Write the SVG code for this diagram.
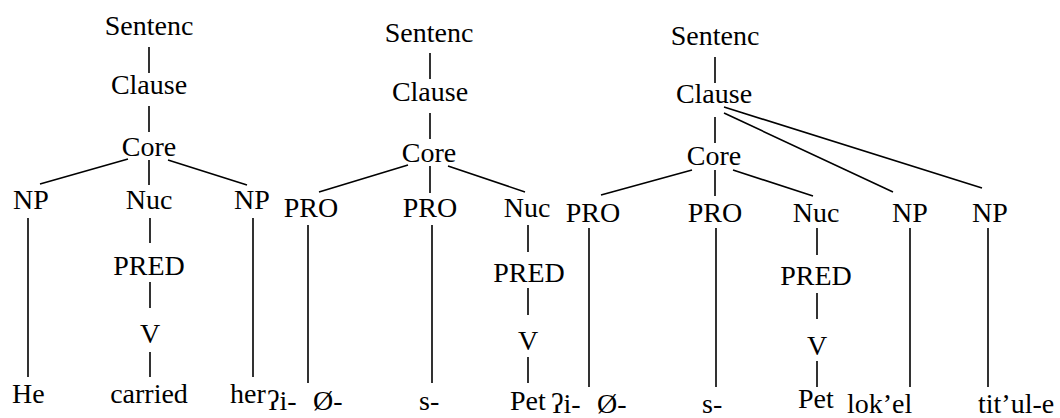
<svg xmlns="http://www.w3.org/2000/svg" width="1060" height="418" viewBox="0 0 1060 418">
<style>
text{font-family:"Liberation Serif","DejaVu Serif",serif;font-size:28px;fill:#000}
.m{text-anchor:middle}
.e{stroke:#000;stroke-width:1.6;fill:none}
</style>
<rect width="1060" height="418" fill="#fff"/>
<g id="connectors" class="e">
<path d="M149 47V73M149 106V132M128 159L40 184M149 160V185M168 160L247 185M28 218V377M150 218V243M150 282V308M150 352V377M253 218V377"/>
<path d="M430 53V79M430 113V139M408 165L319 192M430 166V193M448 166L525 192M308 225V383M432 225V383M528 225V252M528 288V315M528 357V383"/>
<path d="M715 57V83M715 117V143M724 113L893 192M724 107L982 188M692 170L601 195M715 170V196M733 170L813 196M589 228V387M716 228V387M817 228V255M817 293V319M817 361V387M910 228V387M988 228V387"/>
</g>
<g id="t1-sentence"><text class="m" x="149" y="35">Sentenc</text></g>
<g id="t1-clause"><text class="m" x="149" y="94">Clause</text></g>
<g id="t1-core"><text class="m" x="149" y="156">Core</text></g>
<g id="t1-np1"><text class="m" x="31" y="209">NP</text></g>
<g id="t1-nuc"><text class="m" x="149" y="209">Nuc</text></g>
<g id="t1-np2"><text class="m" x="252" y="209">NP</text></g>
<g id="t1-pred"><text class="m" x="149" y="275">PRED</text></g>
<g id="t1-v"><text class="m" x="150" y="343">V</text></g>
<g id="t1-he"><text x="12" y="403">He</text></g>
<g id="t1-carried"><text class="m" x="149" y="403">carried</text></g>
<g id="t1-her"><text x="230" y="403">her</text></g>

<g id="t2-sentence"><text class="m" x="429" y="42">Sentenc</text></g>
<g id="t2-clause"><text class="m" x="430" y="101">Clause</text></g>
<g id="t2-core"><text class="m" x="429" y="162">Core</text></g>
<g id="t2-pro1"><text class="m" x="311" y="217">PRO</text></g>
<g id="t2-pro2"><text class="m" x="430" y="217">PRO</text></g>
<g id="t2-nuc"><text class="m" x="527" y="217">Nuc</text></g>
<g id="t2-pred"><text class="m" x="529" y="282">PRED</text></g>
<g id="t2-v"><text class="m" x="528" y="350">V</text></g>
<g id="t2-i"><text x="267" y="410">ʔi-</text></g>
<g id="t2-zero"><text x="313" y="410">Ø-</text></g>
<g id="t2-s"><text x="419" y="410">s-</text></g>
<g id="t2-pet"><text x="510" y="410">Pet</text></g>

<g id="t3-sentence"><text class="m" x="715" y="45">Sentenc</text></g>
<g id="t3-clause"><text class="m" x="714" y="103">Clause</text></g>
<g id="t3-core"><text class="m" x="714" y="165">Core</text></g>
<g id="t3-pro1"><text class="m" x="593" y="222">PRO</text></g>
<g id="t3-pro2"><text class="m" x="715" y="222">PRO</text></g>
<g id="t3-nuc"><text class="m" x="816" y="222">Nuc</text></g>
<g id="t3-np1"><text class="m" x="910" y="222">NP</text></g>
<g id="t3-np2"><text class="m" x="990" y="222">NP</text></g>
<g id="t3-pred"><text class="m" x="816" y="285">PRED</text></g>
<g id="t3-v"><text class="m" x="817" y="355">V</text></g>
<g id="t3-i"><text x="551" y="413">ʔi-</text></g>
<g id="t3-zero"><text x="597" y="413">Ø-</text></g>
<g id="t3-s"><text x="702" y="413">s-</text></g>
<g id="t3-pet"><text x="798" y="408">Pet</text></g>
<g id="t3-lokel"><text x="847" y="413">lok’el</text></g>
<g id="t3-titule"><text x="978" y="413">tit’ul-e</text></g>
</svg>
